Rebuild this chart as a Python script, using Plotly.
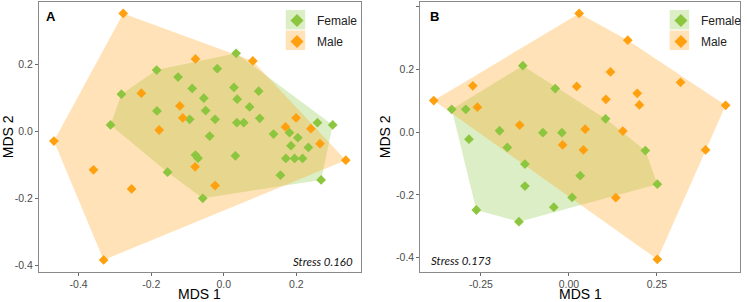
import plotly.graph_objects as go

# ---------------- Data ----------------
# Panel A
a_female_x = [0.034, -0.185, -0.126, -0.018, -0.087, 0.028, 0.096, -0.282, -0.055, 0.037,
              0.071, -0.184, -0.050, -0.094, -0.024, 0.099, 0.036, 0.055, -0.312, -0.039,
              0.137, 0.181, 0.258, 0.300, 0.204, 0.185, 0.233, -0.078, -0.071, 0.032,
              0.171, 0.195, 0.217, -0.155, 0.156, 0.268, -0.058]
a_female_y = [0.232, 0.182, 0.161, 0.186, 0.127, 0.130, 0.119, 0.110, 0.098, 0.095,
              0.072, 0.060, 0.061, 0.035, 0.035, 0.038, 0.025, 0.025, 0.018, -0.015,
              -0.009, -0.005, 0.025, 0.018, -0.020, -0.044, -0.049, -0.072, -0.081, -0.074,
              -0.082, -0.082, -0.082, -0.123, -0.132, -0.146, -0.201]
a_male_x = [-0.277, -0.078, 0.080, -0.227, -0.121, -0.113, -0.178, 0.199, 0.170, 0.240,
            0.265, -0.468, 0.336, -0.359, -0.079, -0.254, -0.024, -0.331]
a_male_y = [0.351, 0.215, 0.209, 0.113, 0.075, 0.039, 0.003, 0.039, 0.012, 0.007,
            -0.038, -0.030, -0.087, -0.116, -0.107, -0.173, -0.163, -0.385]

# Panel B
b_female_x = [-0.131, -0.039, -0.333, -0.293, 0.104, -0.197, -0.074, -0.020, -0.284, -0.175,
              0.217, -0.125, 0.032, -0.125, 0.009, 0.251, -0.263, -0.043, -0.142]
b_female_y = [0.211, 0.138, 0.072, 0.072, 0.042, 0.004, -0.002, -0.002, -0.023, -0.049,
              -0.059, -0.102, -0.139, -0.172, -0.208, -0.166, -0.248, -0.239, -0.285]
b_male_x = [0.029, 0.167, 0.118, 0.317, 0.022, -0.273, -0.384, -0.260, 0.105, 0.194,
            0.200, 0.445, -0.140, 0.046, 0.153, -0.018, 0.041, 0.388, 0.133, 0.251]
b_male_y = [0.377, 0.292, 0.191, 0.158, 0.145, 0.147, 0.100, 0.079, 0.104, 0.123,
            0.086, 0.085, 0.022, 0.009, 0.003, -0.041, -0.057, -0.057, -0.209, -0.405]

groups = ["Female", "Male"]
stress_labels = ["Stress 0.160", "Stress 0.173"]
panel_labels = ["A", "B"]

a_xticks = [-0.4, -0.2, 0.0, 0.2]
a_xtext = ["-0.4", "-0.2", "0.0", "0.2"]
a_yticks = [-0.4, -0.2, 0.0, 0.2]
a_ytext = ["-0.4", "-0.2", "0.0", "0.2"]
b_xticks = [-0.25, 0.0, 0.25]
b_xtext = ["-0.25", "0.00", "0.25"]
b_yticks = [-0.4, -0.2, 0.0, 0.2, 0.4]
b_ytext = ["-0.4", "-0.2", "0.0", "0.2", "0.4"]

# ---------------- Styling ----------------
GREEN = "rgb(140,198,63)"
ORANGE = "rgb(255,160,15)"
GREEN_FILL = "rgba(140,198,63,0.3)"
ORANGE_FILL = "rgba(255,160,15,0.3)"
W, H = 747, 302


def convex_hull(xs, ys):
    pts = sorted(set(zip(xs, ys)))

    def cross(o, a, b):
        return (a[0] - o[0]) * (b[1] - o[1]) - (a[1] - o[1]) * (b[0] - o[0])

    lower = []
    for p in pts:
        while len(lower) >= 2 and cross(lower[-2], lower[-1], p) <= 0:
            lower.pop()
        lower.append(p)
    upper = []
    for p in reversed(pts):
        while len(upper) >= 2 and cross(upper[-2], upper[-1], p) <= 0:
            upper.pop()
        upper.append(p)
    h = lower[:-1] + upper[:-1]
    h.append(h[0])
    return [p[0] for p in h], [p[1] for p in h]


fig = go.Figure()

panels = [
    ("x", "y", a_female_x, a_female_y, a_male_x, a_male_y, "legend"),
    ("x2", "y2", b_female_x, b_female_y, b_male_x, b_male_y, "legend2"),
]
for xa, ya, fx, fy, mx, my, leg in panels:
    hx, hy = convex_hull(fx, fy)
    fig.add_trace(go.Scatter(x=hx, y=hy, mode="lines", fill="toself", fillcolor=GREEN_FILL,
                             line=dict(width=0), hoverinfo="skip", showlegend=False,
                             xaxis=xa, yaxis=ya))
    hx, hy = convex_hull(mx, my)
    fig.add_trace(go.Scatter(x=hx, y=hy, mode="lines", fill="toself", fillcolor=ORANGE_FILL,
                             line=dict(width=0), hoverinfo="skip", showlegend=False,
                             xaxis=xa, yaxis=ya))
    fig.add_trace(go.Scatter(x=fx, y=fy, mode="markers", name=groups[0],
                             marker=dict(symbol="diamond", size=7.5, color=GREEN),
                             showlegend=False, xaxis=xa, yaxis=ya))
    fig.add_trace(go.Scatter(x=mx, y=my, mode="markers", name=groups[1],
                             marker=dict(symbol="diamond", size=7.5, color=ORANGE),
                             showlegend=False, xaxis=xa, yaxis=ya))
    # legend entries
    fig.add_trace(go.Scatter(x=[None], y=[None], mode="markers", name=groups[0],
                             marker=dict(symbol="diamond", size=10, color=GREEN),
                             legend=leg, legendgroup=leg + "f", xaxis=xa, yaxis=ya))
    fig.add_trace(go.Scatter(x=[None], y=[None], mode="markers", name=groups[1],
                             marker=dict(symbol="diamond", size=10, color=ORANGE),
                             legend=leg, legendgroup=leg + "m", xaxis=xa, yaxis=ya))

tickfont = dict(family="Liberation Sans, Arial, sans-serif", size=10.5, color="#4d4d4d")
axis_common = dict(showgrid=False, zeroline=False, showline=True, mirror=True,
                   linecolor="#8a8a8a", linewidth=1.3, ticks="outside", ticklen=3,
                   tickcolor="#6a6a6a", tickfont=tickfont)

legfont = dict(family="Liberation Sans, Arial", size=12, color="#222")
ydom = [(H - 271.7) / H, (H - 2) / H]
fig.update_layout(
    width=W, height=H, margin=dict(l=0, r=0, t=0, b=0),
    paper_bgcolor="white", plot_bgcolor="white",
    xaxis=dict(domain=[39.3 / W, 363 / W], range=[-0.5088, 0.3781],
               tickvals=a_xticks, ticktext=a_xtext, anchor="y", **axis_common),
    yaxis=dict(domain=ydom, range=[-0.42, 0.3851],
               tickvals=a_yticks, ticktext=a_ytext, anchor="x", **axis_common),
    xaxis2=dict(domain=[422.7 / W, 744.3 / W], range=[-0.4218, 0.4867],
                tickvals=b_xticks, ticktext=b_xtext, anchor="y2", **axis_common),
    yaxis2=dict(domain=ydom, range=[-0.4442, 0.4134],
                tickvals=b_yticks, ticktext=b_ytext, anchor="x2", **axis_common),
    legend=dict(x=(298.5 - 20) / W, xanchor="left", y=1 - 6 / H, yanchor="top",
                bgcolor="rgba(0,0,0,0)", font=legfont, tracegroupgap=2),
    legend2=dict(x=(684.5 - 20) / W, xanchor="left", y=1 - 6 / H, yanchor="top",
                 bgcolor="rgba(0,0,0,0)", font=legfont, tracegroupgap=2),
    showlegend=True,
)

# legend key backgrounds
for x0, fillc, row in [(287.3, GREEN_FILL, 0), (287.3, ORANGE_FILL, 1),
                       (673.3, GREEN_FILL, 0), (673.3, ORANGE_FILL, 1)]:
    y0 = 10 + row * 20.5
    fig.add_shape(type="rect", xref="paper", yref="paper",
                  x0=x0 / W, x1=(x0 + 19.5) / W, y0=1 - y0 / H, y1=1 - (y0 + 19.5) / H,
                  fillcolor=fillc, line=dict(width=0), layer="below")

title_font = dict(family="Liberation Sans, Arial", size=14, color="black")
ann = [
    dict(text="MDS 1", x=201 / W, y=1 - 294.3 / H, font=title_font),
    dict(text="MDS 1", x=583.5 / W, y=1 - 294.3 / H, font=title_font),
    dict(text="MDS 2", x=7.5 / W, y=1 - 136.8 / H, textangle=-90, font=title_font),
    dict(text="MDS 2", x=386.5 / W, y=1 - 136.8 / H, textangle=-90, font=title_font),
    dict(text="<b>" + panel_labels[0] + "</b>", x=51.3 / W, y=1 - 16.3 / H,
         font=dict(family="Liberation Sans, Arial", size=13, color="black")),
    dict(text="<b>" + panel_labels[1] + "</b>", x=436.7 / W, y=1 - 16 / H,
         font=dict(family="Liberation Sans, Arial", size=13, color="black")),
    dict(text="<i>" + stress_labels[0] + "</i>", x=355.5 / W, y=1 - 261 / H, xanchor="right",
         font=dict(family="Lato, Open Sans", size=11.5, color="#111")),
    dict(text="<i>" + stress_labels[1] + "</i>", x=432.7 / W, y=1 - 260.7 / H, xanchor="left",
         font=dict(family="Lato, Open Sans", size=11.5, color="#111")),
]
for a in ann:
    a.setdefault("xanchor", "center")
    fig.add_annotation(xref="paper", yref="paper", yanchor="middle", showarrow=False,
                       borderpad=0, **a)

fig.write_html("out.html", config={"displayModeBar": False},
               post_script="document.body.style.margin='0';document.body.style.padding='0';")
